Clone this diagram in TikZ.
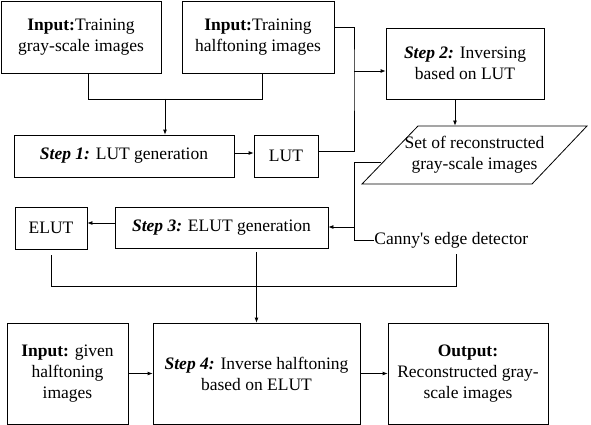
\documentclass[tikz,border=0pt]{standalone}
\usepackage{fontspec}
\setmainfont{Liberation Serif}
\usetikzlibrary{arrows.meta}

\begin{document}
\begin{tikzpicture}[x = 1pt, y = -1pt, line width = 0.8pt,
        box/.style = {draw, inner sep = 0pt, align = center, font = \fontsize{17.5}{21}\selectfont},
        arr/.style = {-{Latex[length = 5pt, width = 4pt]}}]
        \useasboundingbox (0, 0) rectangle (591, 425);
        % inputs and step 1
        \node[box, minimum width = 160, minimum height = 72] (in1) at (81, 37) {\textbf{Input:}Training\\gray-scale images};
        \node[box, minimum width = 152, minimum height = 72] (in2) at (258, 37) {\textbf{Input:}Training\\halftoning images};
        \node[box, minimum width = 220, minimum height = 42] (step1) at (124, 156) {\textbf{\textit{Step 1:}} LUT generation};
        \node[box, minimum width = 64, minimum height = 42] (lut) at (286, 156) {LUT};
        % step 2
        \node[box, minimum width = 158, minimum height = 71] (step2) at (465, 63.5) {\textbf{\textit{Step 2:}} Inversing\\based on LUT};
        \draw (362, 184) -- (418, 126) -- (587, 126) -- (532, 184) -- cycle;
        \node[box, draw = none, minimum height = 58] (set) at (474.5, 155) {Set of reconstructed\\gray-scale images};
        % step 3
        \node[box, minimum width = 213, minimum height = 41] (step3) at (221.5, 228) {\textbf{\textit{Step 3:}} ELUT generation};
        \node[box, minimum width = 72, minimum height = 42] (elut) at (51, 228) {ELUT};
        \node[box, draw = none, anchor = west] (canny) at (374, 240) {Canny\textquotesingle s edge detector};
        % step 4
        \node[box, minimum width = 121, minimum height = 101] (in3) at (67.5, 373.5) {\textbf{Input:} given\\halftoning\\images};
        \node[box, minimum width = 207, minimum height = 101] (step4) at (256.5, 373.5) {\textbf{\textit{Step 4:}} Inverse halftoning\\based on ELUT};
        \node[box, minimum width = 160, minimum height = 101] (out) at (468, 373.5) {\textbf{Output:}\\Reconstructed gray-\\scale images};

        \coordinate (merge) at (165, 99);
        \coordinate (j1) at (354, 71);
        \coordinate (setl) at (381, 162);
        \coordinate (j2) at (354, 227);

        \draw ([xshift = 7pt]in1.south) -- ++(0, 26) -| ([xshift = 4pt]in2.south);
        \draw[arr] (merge) -- (merge |- step1.north);
        \draw[arr] ([yshift = 3pt]step1.east) -- ([yshift = 3pt]lut.west);
        \draw ([yshift = 10pt]in2.east) -| (j1) |- ([yshift = 5pt]lut.east);
        \draw[arr] (j1) -- (j1 -| step2.west);
        \draw[arr] ([xshift = -10pt]step2.south) -- ([xshift = -10pt]step2.south |- set.north);
        \draw (setl) -- ++(-27, 0) |- (canny.west);
        \draw[arr] (j2) -- (j2 -| step3.east);
        \draw[arr] ([yshift = 5pt]step3.west) -- ([yshift = 5pt]elut.east);
        \draw ([yshift = -6pt]elut.south) -- ++(0, 31) -| ([xshift = 5pt, yshift = -6pt]canny.south);
        \draw[arr] (step3.south -| step4.north) ++(0, 3) -- (step4.north);
        \draw[arr] (in3) -- (step4);
        \draw[arr] (step4) -- (out);
    \end{tikzpicture}
\end{document}
